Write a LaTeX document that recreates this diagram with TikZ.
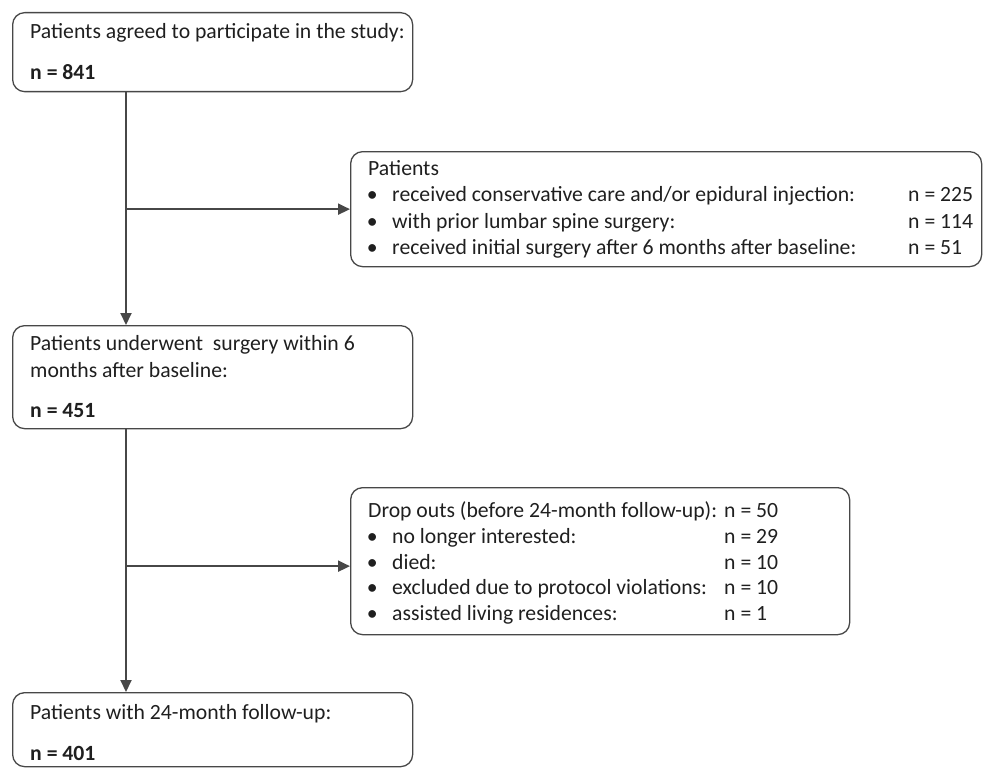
\documentclass[tikz,border=0pt]{standalone}
\usepackage{fontspec}
\setmainfont{Carlito}
\usetikzlibrary{arrows.meta}
\newcommand{\bul}{\makebox[0pt]{\textbullet}\hspace{20pt}}
\begin{document}
\begin{tikzpicture}[x=1pt,y=-1pt,
  box/.style={draw=black!72, line width=1.3pt, rounded corners=12pt, inner sep=0pt, anchor=north west},
  txt/.style={anchor=base west, inner sep=0pt, font=\fontsize{21.7}{26}\selectfont, text=black!88},
  conn/.style={draw=black!72, line width=2pt},
  arr/.style={conn, -{Triangle[length=12pt,width=11pt]}}]
\useasboundingbox (0,0) rectangle (983,768);
% boxes
\node[box, minimum width=400pt, minimum height=79pt] (b1) at (12,12) {};
\node[box, minimum width=631pt, minimum height=115pt] (b3) at (350,151) {};
\node[box, minimum width=400pt, minimum height=103pt] (b2) at (12,325) {};
\node[box, minimum width=499pt, minimum height=147pt] (b5) at (350,487) {};
\node[box, minimum width=400pt, minimum height=74pt] (b4) at (12,692) {};
% texts
\node[txt] (t1a) at (30,39) {Patients agreed to participate in the study:};
\node[txt] (t1b) at (30,80) {\bfseries n = 841};
\node[txt] (t3a) at (368,175) {Patients};
\node[txt] (t3b) at (372,201.5) {\bul received conservative care and/or epidural injection:};
\node[txt] (t3c) at (372,228) {\bul with prior lumbar spine surgery:};
\node[txt] (t3d) at (372,254) {\bul received initial surgery after 6 months after baseline:};
\node[txt] (n3b) at (908,201.5) {n = 225};
\node[txt] (n3c) at (908,228) {n = 114};
\node[txt] (n3d) at (908,254) {n = 51};
\node[txt] (t2a) at (30,350) {Patients underwent\ \ surgery within 6};
\node[txt] (t2b) at (30,377) {months after baseline:};
\node[txt] (t2c) at (30,417) {\bfseries n = 451};
\node[txt] (t5a) at (368,517) {Drop outs (before 24-month follow-up):};
\node[txt] (t5b) at (372,543) {\bul no longer interested:};
\node[txt] (t5c) at (372,569) {\bul died:};
\node[txt] (t5d) at (372,594.5) {\bul excluded due to protocol violations:};
\node[txt] (t5e) at (372,620) {\bul assisted living residences:};
\node[txt] (n5a) at (724,517) {n = 50};
\node[txt] (n5b) at (724,543) {n = 29};
\node[txt] (n5c) at (724,569) {n = 10};
\node[txt] (n5d) at (724,594.5) {n = 10};
\node[txt] (n5e) at (724,620) {n = 1};
\node[txt] (t4a) at (30,719) {Patients with 24-month follow-up:};
\node[txt] (t4b) at (30,760) {\bfseries n = 401};
% connectors
\coordinate (v) at (126,0);
\draw[arr] (b1.south -| v) -- (b2.north -| v);
\draw[arr] (b2.south -| v) -- (b4.north -| v);
\draw[arr] (b3.west -| v) -- (b3.west);
\draw[arr] ([yshift=-5pt]b5.west -| v) -- ([yshift=-5pt]b5.west);
\end{tikzpicture}
\end{document}
